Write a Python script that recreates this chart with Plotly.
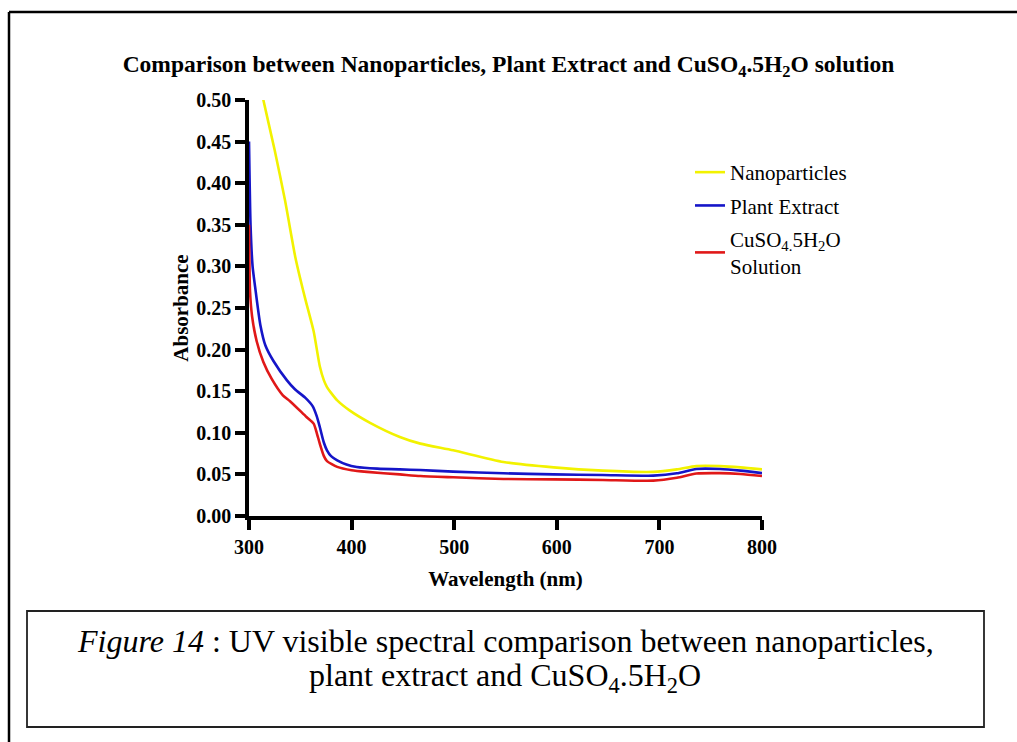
import plotly.graph_objects as go

# ---- data ----
wl_nano = [300, 314, 325, 335, 345, 350, 355, 363, 369, 373, 376, 380, 386, 398, 418, 447,
           467, 499, 548, 597, 645, 694, 717, 736, 759, 779, 800]
abs_nano = [0.585, 0.50, 0.44, 0.38, 0.312, 0.285, 0.26, 0.222, 0.180, 0.163, 0.155, 0.148, 0.139,
            0.127, 0.112, 0.095, 0.087, 0.079, 0.065, 0.0585, 0.0545, 0.053, 0.056, 0.060, 0.060,
            0.0585, 0.056]

wl_plant = [300, 301.5, 303.5, 306, 311, 316, 324, 337, 345, 355, 362, 366, 369, 373, 376, 380,
            386, 395, 405, 425, 447, 467, 499, 548, 597, 645, 694, 717, 736, 759, 779, 800]
abs_plant = [0.45, 0.35, 0.30, 0.275, 0.23, 0.205, 0.186, 0.163, 0.152, 0.142, 0.132, 0.12, 0.107,
             0.088, 0.079, 0.072, 0.067, 0.062, 0.059, 0.057, 0.056, 0.0553, 0.0533, 0.0513, 0.050,
             0.0493, 0.0485, 0.0513, 0.0565, 0.0565, 0.0545, 0.0515]

wl_cu = [300, 301, 303, 307.5, 314, 322, 333, 340, 356, 363, 366, 369, 373, 376, 386, 400, 415,
         447, 467, 499, 548, 597, 645, 694, 717, 736, 759, 779, 800]
abs_cu = [0.35, 0.27, 0.24, 0.21, 0.185, 0.165, 0.145, 0.138, 0.119, 0.111, 0.10, 0.087, 0.072,
          0.066, 0.059, 0.055, 0.053, 0.050, 0.048, 0.0465, 0.0445, 0.044, 0.0433, 0.0425, 0.046,
          0.051, 0.0515, 0.0505, 0.048]

series_names = ["Nanoparticles", "Plant Extract", "CuSO<sub>4.</sub>5H<sub>2</sub>O<br>Solution"]
series_colors = ["#F2F200", "#1515C8", "#E01818"]

x_ticks = [300, 400, 500, 600, 700, 800]
y_ticks = [0.00, 0.05, 0.10, 0.15, 0.20, 0.25, 0.30, 0.35, 0.40, 0.45, 0.50]

caption_lines = [
    "<i>Figure 14</i> : UV visible spectral comparison between nanoparticles,",
    "plant extract and CuSO<sub>4</sub>.5H<sub>2</sub>O",
]

# ---- layout geometry (pixels) ----
W, H = 1017, 742
PL, PR, PT, PB = 249, 762, 100, 516   # plot area


def px_x(p):
    return (p - PL) / (PR - PL)


def px_y(p):
    return (PB - p) / (PB - PT)


SERIF = "Liberation Serif, Times New Roman, serif"

fig = go.Figure()
for i, (xs, ys) in enumerate([(wl_nano, abs_nano), (wl_plant, abs_plant), (wl_cu, abs_cu)]):
    fig.add_trace(go.Scatter(
        x=xs, y=ys, mode="lines", name=series_names[i], legendgroup=f"g{i}",
        line=dict(color=series_colors[i], width=2.6, shape="spline", smoothing=0.6),
    ))

fig.update_layout(
    width=W, height=H,
    margin=dict(l=PL, r=W - PR, t=PT, b=H - PB, pad=0),
    paper_bgcolor="white", plot_bgcolor="white",
    title=dict(
        text="<b>Comparison between Nanoparticles, Plant Extract and CuSO<sub>4</sub>.5H<sub>2</sub>O solution</b>",
        x=0.5, xref="container", xanchor="center",
        y=1 - 64 / H, yref="container", yanchor="middle",
        font=dict(family=SERIF, size=23.5, color="black"),
    ),
    showlegend=True,
    legend=dict(
        x=px_x(690), y=px_y(152), xanchor="left", yanchor="top",
        font=dict(family=SERIF, size=21, color="black"),
        bgcolor="rgba(0,0,0,0)", borderwidth=0,
        itemwidth=30, tracegroupgap=3,
    ),
    xaxis=dict(
        range=[300, 800], tickvals=x_ticks, ticktext=[str(v) for v in x_ticks],
        showgrid=False, zeroline=False, showline=True, linecolor="black", linewidth=3.5,
        ticks="outside", ticklen=10, tickwidth=3.5, tickcolor="black",
        tickfont=dict(family=SERIF, size=20, color="black", weight="bold"),
        title=dict(text="<b>Wavelength (nm)</b>", standoff=16,
                   font=dict(family=SERIF, size=21, color="black")),
        automargin=False,
    ),
    yaxis=dict(
        range=[0, 0.5], tickvals=y_ticks, ticktext=[f"{v:.2f}" for v in y_ticks],
        showgrid=False, zeroline=False, showline=True, linecolor="black", linewidth=3.5,
        ticks="outside", ticklen=10, tickwidth=3.5, tickcolor="black",
        tickfont=dict(family=SERIF, size=20, color="black", weight="bold"),
        title=dict(text="<b>Absorbance</b>", standoff=3,
                   font=dict(family=SERIF, size=21, color="black")),
        automargin=False,
    ),
)

# outer frame (left and top edges visible; the rest runs off the page)
fig.add_shape(type="line", xref="paper", yref="paper",
              x0=px_x(9), x1=px_x(9), y0=px_y(12), y1=px_y(H + 20),
              line=dict(color="black", width=2.5))
fig.add_shape(type="line", xref="paper", yref="paper",
              x0=px_x(9), x1=px_x(W + 20), y0=px_y(12), y1=px_y(12),
              line=dict(color="black", width=2.5))

# caption box
fig.add_shape(type="rect", xref="paper", yref="paper",
              x0=px_x(27), x1=px_x(984), y0=px_y(611), y1=px_y(727),
              line=dict(color="#222222", width=1.8), fillcolor="rgba(0,0,0,0)")
for text, cy in zip(caption_lines, [641, 677]):
    fig.add_annotation(
        xref="paper", yref="paper", x=px_x(505), y=px_y(cy), xanchor="center", yanchor="middle",
        text=text, showarrow=False, align="center",
        font=dict(family=SERIF, size=32, color="black"),
    )

fig.write_html("out.html")
